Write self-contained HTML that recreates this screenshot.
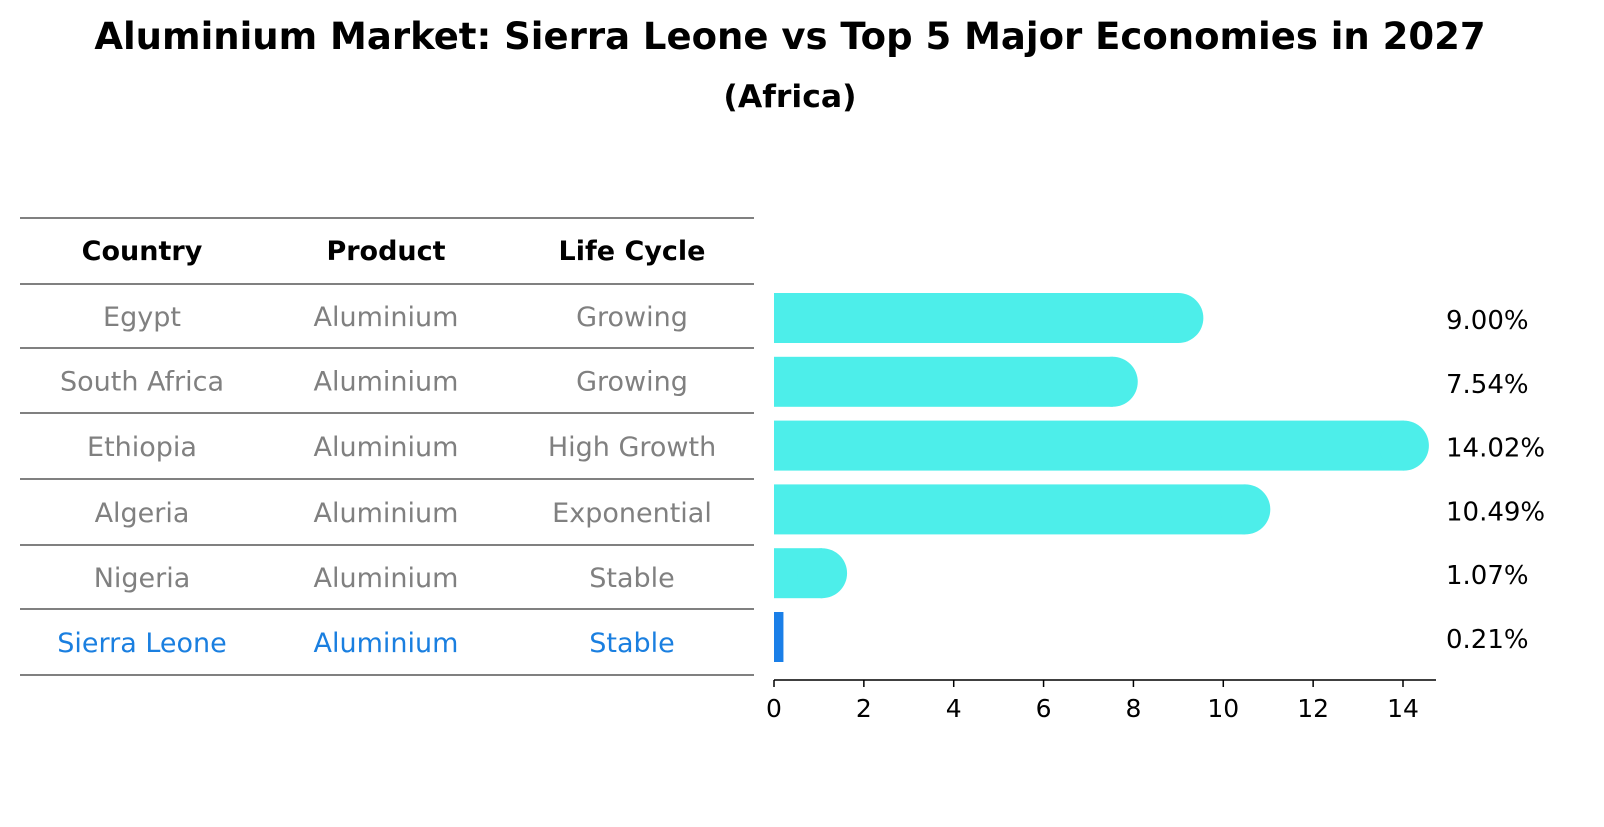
<!DOCTYPE html>
<html><head><meta charset="utf-8"><style>
body{margin:0;background:#fff;font-family:"DejaVu Sans","Liberation Sans",sans-serif;}
</style></head><body>
<svg width="1604" height="823" xmlns="http://www.w3.org/2000/svg" font-family="DejaVu Sans, Liberation Sans, sans-serif">
<text x="790" y="49" text-anchor="middle" font-size="37" font-weight="bold">Aluminium Market: Sierra Leone vs Top 5 Major Economies in 2027</text>
<text x="790" y="107" text-anchor="middle" font-size="31.5" font-weight="bold">(Africa)</text>
<g id="table"></g>
<g id="bars"></g>
</svg>
<script>
const countries=["Egypt","South Africa","Ethiopia","Algeria","Nigeria","Sierra Leone"];
const products=["Aluminium","Aluminium","Aluminium","Aluminium","Aluminium","Aluminium"];
const cycles=["Growing","Growing","High Growth","Exponential","Stable","Stable"];
const values=[9.00,7.54,14.02,10.49,1.07,0.21];
const ticks=[0,2,4,6,8,10,12,14];
const NS="http://www.w3.org/2000/svg";
function mk(t,a,p){const e=document.createElementNS(NS,t);for(const k in a)e.setAttribute(k,a[k]);p.appendChild(e);return e;}
const tb=document.getElementById('table'),bg=document.getElementById('bars');
const lineYs=[218,284,348,413,479,545,609,675];
const FS=27;
lineYs.forEach((y,i)=>{const l=mk('line',{x1:20,x2:754,y1:y,y2:y,stroke:'#000','stroke-width':1},tb);
});
const colX=[142,386,632];
["Country","Product","Life Cycle"].forEach((h,j)=>{const t=mk('text',{x:colX[j],y:260,'text-anchor':'middle','font-size':FS,'font-weight':'bold'},tb);t.textContent=h;
});
const rowY=i=>(lineYs[i+1]+lineYs[i+2])/2+10;
countries.forEach((c,i)=>{const col=i===countries.length-1?'#1a7fe0':'#808080';
[c,products[i],cycles[i]].forEach((v,j)=>{const t=mk('text',{x:colX[j],y:rowY(i),'text-anchor':'middle','font-size':FS,fill:col},tb);t.textContent=v;
});});
const x0=774,pxu=(1403-774)/14;const xs=v=>x0+v*pxu;
const barY=i=>318+i*63.8;const bh=50;
values.forEach((v,i)=>{const cy=barY(i);
if(i===values.length-1){const r=mk('rect',{x:x0,y:cy-bh/2,width:Math.max(xs(v)-x0,1),height:bh,fill:'#1a7fe8'},bg);
}
else{const g=mk('g',{},bg);
mk('rect',{x:x0,y:cy-bh/2,width:xs(v)-x0,height:bh,fill:'#4deeea'},g);
mk('circle',{cx:xs(v),cy:cy,r:bh/2,fill:'#4deeea'},g);}
const t=mk('text',{x:1446,y:cy+11,'font-size':26},bg);t.textContent=v.toFixed(2)+'%';
});
const ax=mk('line',{x1:x0,x2:1436,y1:680,y2:680,stroke:'#000','stroke-width':1.5},bg);

ticks.forEach(v=>{const l=mk('line',{x1:xs(v),x2:xs(v),y1:680,y2:687,stroke:'#000','stroke-width':1.5},bg);

const t=mk('text',{x:xs(v),y:717,'text-anchor':'middle','font-size':25},bg);t.textContent=v;
});
</script>
</body></html>
